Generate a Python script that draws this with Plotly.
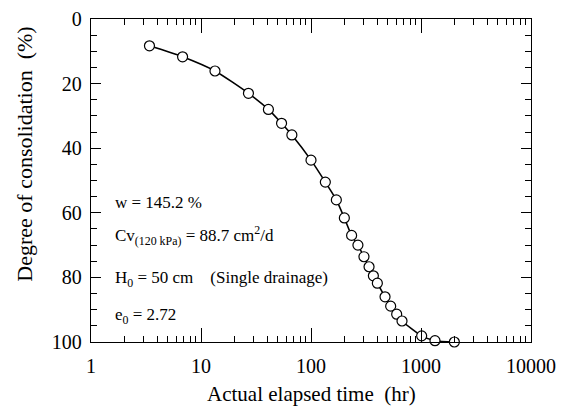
import plotly.graph_objects as go

# Data
elapsed_time_hr = [3.4, 6.8, 13.4, 27, 41, 54, 67, 100, 135, 170, 201, 234, 267,
                   303, 337, 369, 401, 471, 530, 601, 672, 1014, 1340, 2010]
consolidation_pct = [8.3, 11.7, 16.1, 23.0, 28.0, 32.3, 35.9, 43.7, 50.5, 56.0,
                     61.6, 67.0, 70.0, 73.6, 76.7, 79.5, 81.8, 86.0, 88.9, 91.4,
                     93.5, 98.1, 99.6, 100.0]

x_tick_vals = [1, 10, 100, 1000, 10000]
x_tick_text = ["1", "10", "100", "1000", "10000"]
y_tick_vals = [0, 20, 40, 60, 80, 100]

FONT = "Liberation Serif, Times New Roman, serif"
NB = "\u00a0"

fig = go.Figure()
fig.add_trace(go.Scatter(
    x=elapsed_time_hr, y=consolidation_pct,
    mode="lines+markers",
    line=dict(color="black", width=1.6, shape="spline", smoothing=0.6),
    marker=dict(symbol="circle", size=10, color="white",
                line=dict(color="black", width=1.2)),
    cliponaxis=False,
    showlegend=False,
))

fig.update_xaxes(
    type="log", range=[0, 4], automargin=False,
    tickvals=x_tick_vals, ticktext=x_tick_text,
    ticks="inside", ticklen=14, tickwidth=1.2, tickcolor="black",
    minor=dict(ticks="inside", ticklen=6, tickwidth=1, tickcolor="black",
               dtick="D1", showgrid=False),
    showline=True, linecolor="black", linewidth=1.3, mirror="allticks",
    showgrid=False, zeroline=False,
    tickfont=dict(family=FONT, size=20, color="black"),
    ticklabelstandoff=6,
)
fig.update_yaxes(
    range=[100, 0], automargin=False,
    tickvals=y_tick_vals,
    ticks="inside", ticklen=10, tickwidth=1.2, tickcolor="black",
    minor=dict(ticks="inside", ticklen=6, tickwidth=1, tickcolor="black",
               dtick=5, showgrid=False),
    showline=True, linecolor="black", linewidth=1.3, mirror="allticks",
    showgrid=False, zeroline=False,
    tickfont=dict(family=FONT, size=20, color="black"),
    ticklabelstandoff=4,
)

ann_font = dict(family=FONT, size=17, color="black")
annotations = [
    dict(text="w = 145.2 %", x=0.05, y=0.433),
    dict(text="Cv<sub>(120 kPa)</sub> = 88.7 cm<sup>2</sup>/d", x=0.05, y=0.33),
    dict(text="H<sub>0</sub> = 50 cm" + NB * 4 + "(Single drainage)", x=0.05, y=0.195),
    dict(text="e<sub>0</sub> = 2.72", x=0.05, y=0.08),
]
for a in annotations:
    fig.add_annotation(xref="paper", yref="paper", xanchor="left", yanchor="middle",
                       showarrow=False, font=ann_font, **a)

fig.add_annotation(xref="paper", yref="paper", x=-0.15, y=0.58,
                   text="Degree of consolidation" + NB * 2 + "(%)", textangle=-90,
                   showarrow=False, xanchor="center", yanchor="middle",
                   font=dict(family=FONT, size=22, color="black"))
fig.add_annotation(xref="paper", yref="paper", x=0.5, y=-0.16,
                   text="Actual elapsed time" + NB * 2 + "(hr)",
                   showarrow=False, xanchor="center", yanchor="middle",
                   font=dict(family=FONT, size=21, color="black"))

fig.update_layout(
    width=567, height=412,
    margin=dict(l=91, r=36, t=19, b=70),
    paper_bgcolor="white", plot_bgcolor="white",
)

fig.write_html("out.html",
               config={"displayModeBar": False},
               post_script="document.body.style.margin='0';"
                           "document.body.style.overflow='hidden';")
